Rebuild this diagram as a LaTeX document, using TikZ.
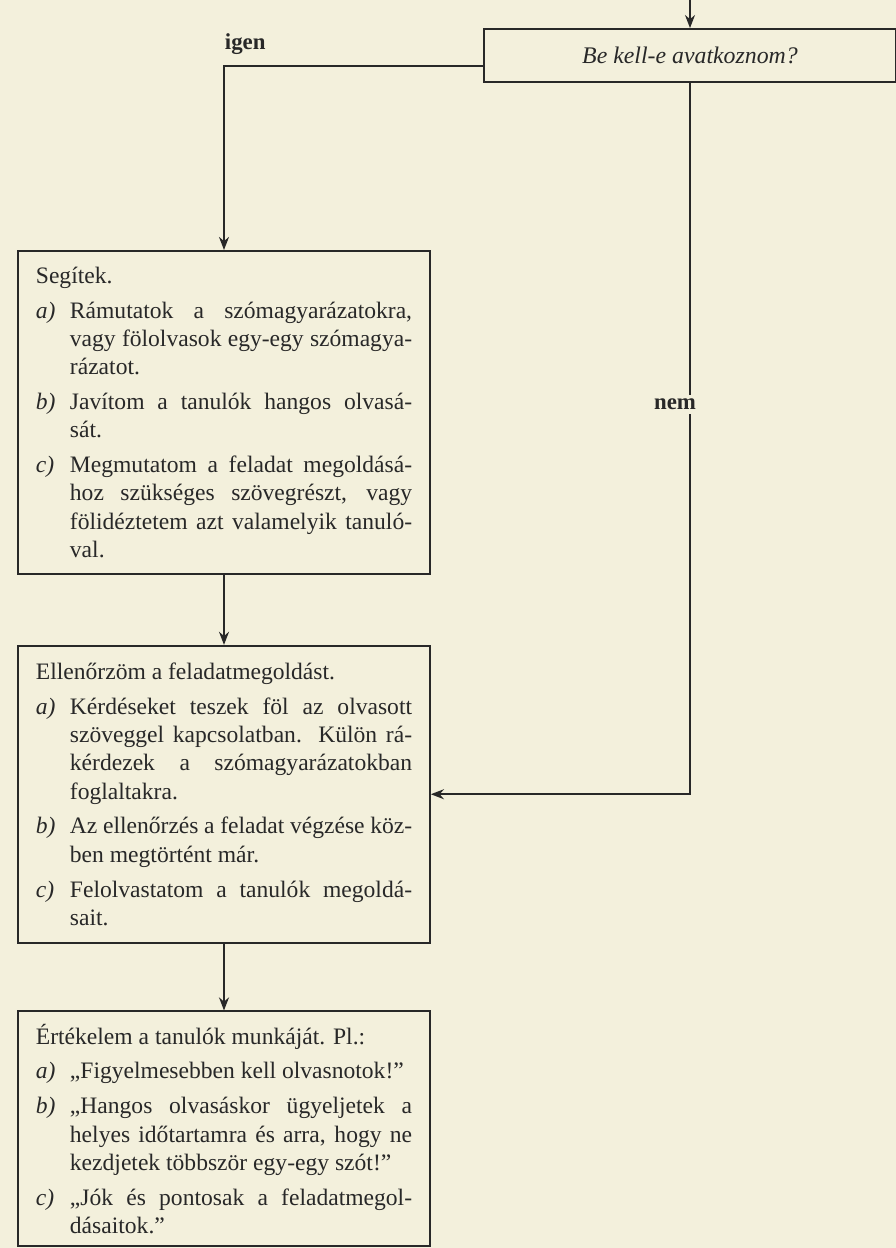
\documentclass[tikz,border=0pt]{standalone}
\usepackage{fontspec}
\setmainfont{Liberation Serif}
\usepackage{xcolor}
\usepackage{tikz}
\usetikzlibrary{arrows.meta,positioning}
\definecolor{paper}{HTML}{F3F0DC}
\definecolor{ink}{HTML}{282828}
\setlength{\parindent}{0pt}
\tolerance=9999 \hbadness=10000
\hyphenpenalty=10000 \exhyphenpenalty=10000
\newcommand\itm[2]{\par\vspace{2.7pt}\hangindent=14.3pt\hangafter=1\noindent
  \makebox[14.3pt][l]{\textit{#1}}#2\par}
\tikzset{
  >={Stealth[length=5.5pt,width=4.2pt]},
  flow/.style={->,line width=0.75pt,draw=ink},
  box/.style={draw=ink,line width=0.75pt,align=justify,text width=158pt,
    inner xsep=7.5pt,font=\fontsize{9.9}{11.9}\selectfont,text=ink},
  askbox/.style={draw=ink,line width=0.75pt,minimum width=173pt,minimum height=22.3pt,
    font=\fontsize{10}{12}\selectfont\itshape,text=ink},
  tag/.style={font=\fontsize{9.6}{12}\selectfont\bfseries,text=ink,inner sep=1.5pt}
}
\begin{document}
\begin{tikzpicture}[x=0.42pt,y=-0.42pt,node distance=29.4pt]
  \fill[paper] (0,0) rectangle (896,1248);
  \useasboundingbox (0,0) rectangle (896,1248);
  \coordinate (start) at (690,0);
  \node[askbox] (ask) at (690,55.5) {Be kell-e avatkoznom?};
  % left column
  \node[box,minimum height=135.7pt,anchor=north] (help) at (224,250) {Segítek.
    \itm{a)}{Rámutatok a szómagyarázatokra,\linebreak vagy fölolvasok egy-egy szómagya-\linebreak rázatot.}
    \itm{b)}{Javítom a tanulók hangos olvasá-\linebreak sát.}
    \itm{c)}{Megmutatom a feladat megoldásá-\linebreak hoz szükséges szövegrészt, vagy\linebreak fölidéztetem azt valamelyik tanuló-\linebreak val.}};
  \node[box,minimum height=124.7pt,below=of help] (check) {Ellenőrzöm a feladatmegoldást.
    \itm{a)}{Kérdéseket teszek föl az olvasott\linebreak szöveggel kapcsolatban. Külön rá-\linebreak kérdezek a szómagyarázatokban\linebreak foglaltakra.}
    \itm{b)}{Az ellenőrzés a feladat végzése köz-\linebreak ben megtörtént már.}
    \itm{c)}{Felolvastatom a tanulók megoldá-\linebreak sait.}};
  \node[box,minimum height=98.7pt,below=28.1pt of check] (rate) {Értékelem a tanulók munkáját. Pl.:
    \itm{a)}{„Figyelmesebben kell olvasnotok!”}
    \itm{b)}{„Hangos olvasáskor ügyeljetek a\linebreak helyes időtartamra és arra, hogy ne\linebreak kezdjetek többször egy-egy szót!”}
    \itm{c)}{„Jók és pontosak a feladatmegol-\linebreak dásaitok.”}};
  % connectors
  \draw[flow] (start) -- (ask.north);
  \draw[flow] ([yshift=-4.4pt]ask.west) -| (help.north)
    node[pos=0.5,tag,anchor=south west,yshift=3pt,xshift=-1.5pt] (igenlbl) {igen};
  \draw[flow] (ask.south) |- (check.east)
    node[pos=0.226,tag,fill=paper,xshift=-6.3pt] (nemlbl) {nem};
  \foreach \a/\b in {help/check,check/rate} \draw[flow] (\a) -- (\b);
\end{tikzpicture}
\end{document}
